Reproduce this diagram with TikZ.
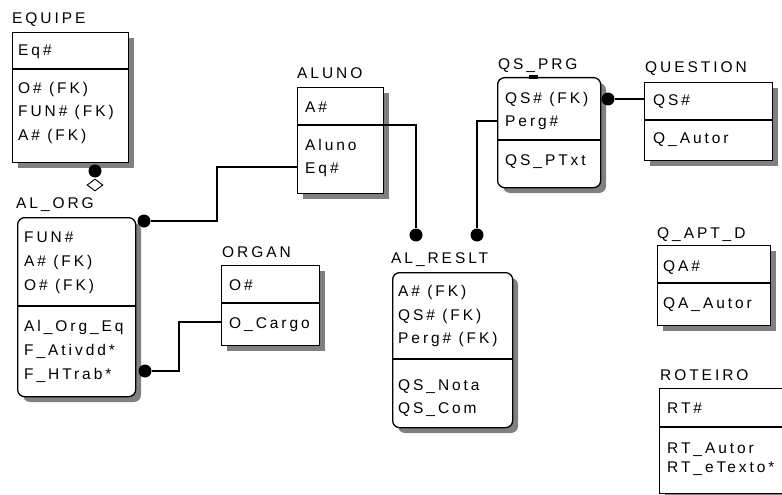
\documentclass[tikz,border=0pt]{standalone}
\usepackage{fontspec}
\setmainfont{Liberation Sans}[LetterSpace=19]
\usetikzlibrary{shapes.geometric}
\definecolor{shadowgray}{RGB}{128,128,128}
\tikzset{
  ent/.style={draw, line width=1.3pt, fill=white, anchor=north west, inner sep=0pt},
  rent/.style={ent, rounded corners=7pt},
  shad/.style={fill=shadowgray},
  fld/.style={anchor=base west, inner sep=0pt, font=\fontsize{15.5}{17}\selectfont},
  ttl/.style={fld},
  divl/.style={line width=1.3pt},
  conn/.style={line width=1.3pt},
  dotn/.style={circle, fill=black, inner sep=0pt, minimum size=13pt},
  diam/.style={diamond, draw, fill=white, line width=0.9pt, inner sep=0pt, minimum width=16pt, minimum height=12pt}
}
\begin{document}
\begin{tikzpicture}[x=1pt,y=-1pt]
\useasboundingbox (0,0) rectangle (782,495);

% shadows
\fill[shad] (18,38) rectangle (134,168);
\fill[shad, rounded corners=7pt] (23,223) rectangle (141,402);
\fill[shad] (303,93) rectangle (389,199);
\fill[shad] (227,271) rectangle (325,351);
\fill[shad, rounded corners=7pt] (398,278) rectangle (518,433);
\fill[shad, rounded corners=7pt] (503,83) rectangle (606,193);
\fill[shad] (650,88) rectangle (778,166);
\fill[shad] (663,251) rectangle (776,331);
\fill[shad] (665,394) rectangle (782,495);

% EQUIPE
\node[ttl] (equipe-t) at (12,24) {EQUIPE};
\node[ent, minimum width=116pt, minimum height=130pt] (equipe) at (12,32) {};
\draw[divl] (12,69) -- (128,69);
\node[fld] (equipe-eq) at (18,56) {Eq\#};
\node[fld] (equipe-o) at (18,94) {O\# (FK)};
\node[fld] (equipe-fun) at (18,117) {FUN\# (FK)};
\node[fld] (equipe-a) at (18,140) {A\# (FK)};

% AL_ORG
\node[ttl] (alorg-t) at (16,208) {AL\_ORG};
\node[rent, minimum width=118pt, minimum height=179pt] (alorg) at (17,217) {};
\draw[divl] (17,306) -- (135,306);
\node[fld] (alorg-fun) at (24,242) {FUN\#};
\node[fld] (alorg-a) at (24,266) {A\# (FK)};
\node[fld] (alorg-o) at (24,290) {O\# (FK)};
\node[fld] (alorg-eq) at (24,331) {Al\_Org\_Eq};
\node[fld] (alorg-at) at (24,355) {F\_Ativdd*};
\node[fld] (alorg-ht) at (24,379) {F\_HTrab*};

% ALUNO
\node[ttl] (aluno-t) at (297,78) {ALUNO};
\node[ent, minimum width=86pt, minimum height=106pt] (aluno) at (297,87) {};
\draw[divl] (297,125) -- (383,125);
\node[fld] (aluno-a) at (305,112) {A\#};
\node[fld] (aluno-al) at (305,150) {Aluno};
\node[fld] (aluno-eq) at (305,173) {Eq\#};

% ORGAN
\node[ttl] (organ-t) at (222,257) {ORGAN};
\node[ent, minimum width=98pt, minimum height=80pt] (organ) at (221,265) {};
\draw[divl] (221,303) -- (319,303);
\node[fld] (organ-o) at (229,290) {O\#};
\node[fld] (organ-c) at (229,328) {O\_Cargo};

% AL_RESLT
\node[ttl] (alres-t) at (391,263) {AL\_RESLT};
\node[rent, minimum width=120pt, minimum height=155pt] (alres) at (392,272) {};
\draw[divl] (392,359) -- (512,359);
\node[fld] (alres-a) at (398,296) {A\# (FK)};
\node[fld] (alres-qs) at (398,320) {QS\# (FK)};
\node[fld] (alres-p) at (398,343) {Perg\# (FK)};
\node[fld] (alres-n) at (398,390) {QS\_Nota};
\node[fld] (alres-c) at (398,413) {QS\_Com};

% QS_PRG
\node[ttl] (qsprg-t) at (498,70) {QS\_PRG};
\node[rent, minimum width=103pt, minimum height=110pt] (qsprg) at (497,77) {};
\draw[divl] (497,140) -- (600,140);
\fill (529,75) rectangle (538,79);
\node[fld] (qsprg-qs) at (505,103) {QS\# (FK)};
\node[fld] (qsprg-p) at (505,126) {Perg\#};
\node[fld] (qsprg-t2) at (505,165) {QS\_PTxt};

% QUESTION
\node[ttl] (quest-t) at (645,73) {QUESTION};
\node[ent, minimum width=128pt, minimum height=78pt] (quest) at (644,82) {};
\draw[divl] (644,120) -- (772,120);
\node[fld] (quest-qs) at (653,105) {QS\#};
\node[fld] (quest-au) at (653,143) {Q\_Autor};

% Q_APT_D
\node[ttl] (qapt-t) at (657,238) {Q\_APT\_D};
\node[ent, minimum width=113pt, minimum height=80pt] (qapt) at (657,245) {};
\draw[divl] (657,283) -- (770,283);
\node[fld] (qapt-qa) at (663,271) {QA\#};
\node[fld] (qapt-au) at (663,308) {QA\_Autor};

% ROTEIRO
\node[ttl] (rot-t) at (660,380) {ROTEIRO};
\node[ent, minimum width=130pt, minimum height=105pt] (rot) at (659,388) {};
\draw[divl] (659,427) -- (789,427);
\node[fld] (rot-rt) at (667,413) {RT\#};
\node[fld] (rot-au) at (667,453) {RT\_Autor};
\node[fld] (rot-tx) at (667,472) {RT\_eTexto*};

% connectors
\node[dotn] (d1) at (95,171) {};
\node[diam] (dm1) at (95,185) {};

\node[dotn] (d2) at (144,221) {};
\draw[conn] (aluno.west |- 0,167) -- (217,167) -- (217,221) -- (d2);

\node[dotn] (d3) at (145,371) {};
\draw[conn] (organ.west |- 0,322) -- (179,322) -- (179,371) -- (d3);

\node[dotn] (d4) at (416,235) {};
\draw[conn] (aluno.east |- 0,125) -- (416,125) -- (d4);

\node[dotn] (d5) at (477,235) {};
\draw[conn] (qsprg.west |- 0,121) -- (477,121) -- (d5);

\node[dotn] (d6) at (608,99) {};
\draw[conn] (d6) -- (quest.west |- d6);
\end{tikzpicture}
\end{document}
